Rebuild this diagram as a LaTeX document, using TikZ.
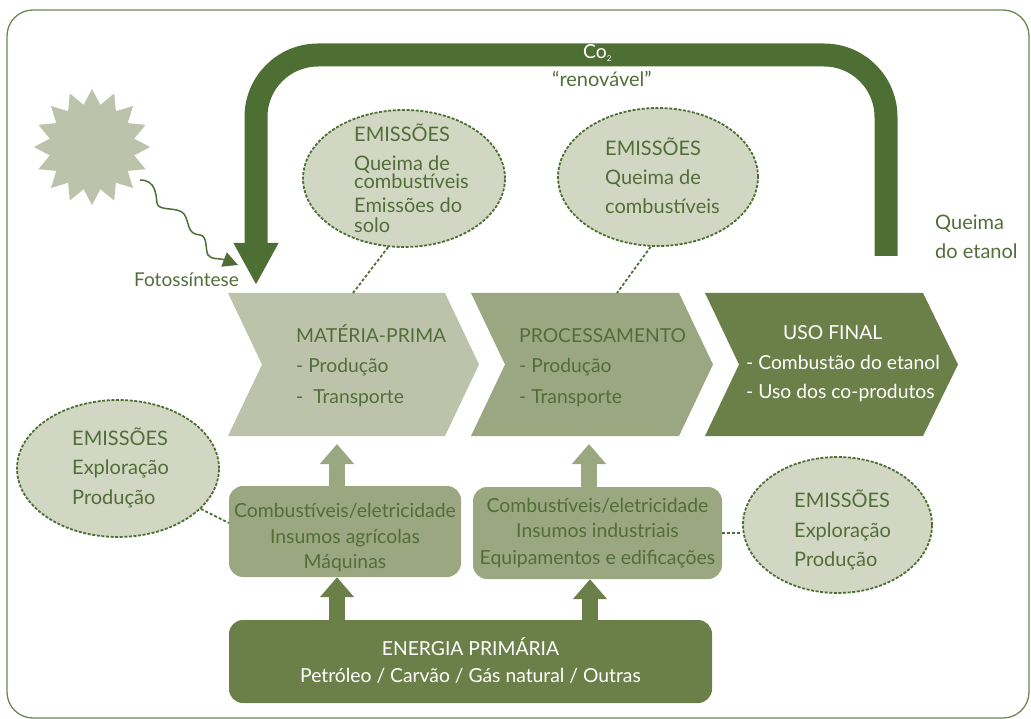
\documentclass[tikz,border=0pt]{standalone}
\usepackage{fontspec}
\setmainfont{Lato}
\usetikzlibrary{arrows.meta,shapes.geometric}
\definecolor{dg}{RGB}{78,111,52}
\definecolor{mg}{RGB}{107,128,73}
\definecolor{lg}{RGB}{155,167,129}
\definecolor{pg}{RGB}{189,195,171}
\definecolor{eg}{RGB}{210,215,196}
\definecolor{tg}{RGB}{82,110,56}
\definecolor{fr}{RGB}{110,135,80}
\newcommand\fsE{\fontsize{20}{23}\selectfont}
\newcommand\fsC{\fontsize{19.3}{23}\selectfont}
\newcommand\fsB{\fontsize{19.4}{22}\selectfont}
\newcommand\fsF{\fontsize{19}{22}\selectfont}
\begin{document}
\begin{tikzpicture}[x=1pt,y=-1pt,
  txt/.style={inner sep=0, text=tg, font=\fsE},
  lt/.style={txt, anchor=base west},
  clt/.style={lt, font=\fsC},
  wlt/.style={clt, text=white},
  ct/.style={txt, font=\fsB, anchor=base},
  wct/.style={ct, text=white, font=\fsC},
  ell/.style={ellipse, draw=dg, fill=eg, line width=1.8pt, dash pattern=on 3pt off 1.6pt, inner sep=0},
  boxnode/.style={rectangle, rounded corners=14pt, inner sep=0},
  uparr/.style={line width=16pt, -{Triangle[width=33pt,length=20pt]}},
  dconn/.style={draw=dg, line width=1.8pt, dash pattern=on 3pt off 2pt},
  frame/.style={draw=fr, line width=1.3pt, rounded corners=26pt}]
\useasboundingbox (0,0) rectangle (1031,719);
\draw[frame] (7,10) rectangle (1029,718);

% sun
\fill[pg, shift={(92,147)}] plot[samples at={0,...,31}] (\x*11.25:{50.5+7.5*cos(\x*180)}) -- cycle;
\coordinate (sunray) at (140,180);
\coordinate (fotoend) at (238,265);
\draw[dg, line width=1.5pt, -{Triangle[length=15pt,width=15pt]}] (sunray) .. controls (156,180) and (156,195) .. (157,203) .. controls (158,212) and (178,206) .. (184,214) .. controls (190,222) and (186,234) .. (200,235) .. controls (208,236) and (205,250) .. (208,255) .. controls (211,260) and (220,258) .. (fotoend);
\node[lt, font=\fsF] (foto) at (134,287) {Fotossíntese};

% CO2 arrow
\coordinate (co2start) at (886,256);
\coordinate (co2end) at (256,285);
\draw[dg, line width=23pt, rounded corners=62pt, -{Triangle[width=42pt,length=42pt]}] (co2start) -- (886,55) -- (256,55) -- (co2end);
\node[wlt] (co2) at (583,59) {Co\raisebox{-3pt}{\fontsize{8}{8}\selectfont 2}};
\node[lt] (ren) at (552,87) {“renovável”};
\node[lt] (qe1) at (935,230) {Queima};
\node[lt] (qe2) at (935,259) {do etanol};

% chevrons
\fill[pg] (228,293) -- (445,293) -- (479,364.5) -- (445,436) -- (228,436) -- (262,364.5) -- cycle;
\fill[lg] (471,293) -- (679,293) -- (713,364.5) -- (679,436) -- (471,436) -- (505,364.5) -- cycle;
\fill[mg] (705,293) -- (923,293) -- (958,364.5) -- (923,436) -- (705,436) -- (739,364.5) -- cycle;
\coordinate (mptop) at (353,293);
\coordinate (prtop) at (617,293);
\node[clt] (mp1) at (296,343) {MATÉRIA-PRIMA};
\node[clt] (mp2) at (296,373) {- Produção};
\node[clt] (mp3) at (296,403) {-\ \ Transporte};
\node[clt] (pr1) at (519,343) {PROCESSAMENTO};
\node[clt] (pr2) at (519,373) {- Produção};
\node[clt] (pr3) at (519,403) {- Transporte};
\node[wlt] (uf1) at (783,340) {USO FINAL};
\node[wlt] (uf2) at (746,370) {- Combustão do etanol};
\node[wlt] (uf3) at (746,399) {- Uso dos co-produtos};

% ellipses
\node[ell, minimum width=202pt, minimum height=137pt] (e1) at (404,178.5) {};
\node[lt] (e1a) at (354,142) {EMISSÕES};
\node[lt] (e1b) at (354,171) {Queima de};
\node[lt] (e1c) at (354,189) {combustíveis};
\node[lt] (e1d) at (354,213) {Emissões do};
\node[lt] (e1e) at (354,233) {solo};
\node[ell, minimum width=200pt, minimum height=138pt] (e2) at (658,177) {};
\node[lt] (e2a) at (605,156) {EMISSÕES};
\node[lt] (e2b) at (605,185) {Queima de};
\node[lt] (e2c) at (605,214) {combustíveis};
\node[ell, minimum width=202pt, minimum height=137pt] (e3) at (118,468.5) {};
\node[lt] (e3a) at (72,445) {EMISSÕES};
\node[lt] (e3b) at (72,474) {Exploração};
\node[lt] (e3c) at (72,504) {Produção};
\node[ell, minimum width=189pt, minimum height=136pt] (e4) at (837.5,525) {};
\node[lt] (e4a) at (794,507) {EMISSÕES};
\node[lt] (e4b) at (794,537) {Exploração};
\node[lt] (e4c) at (794,566) {Produção};

% boxes
\node[boxnode, fill=lg, minimum width=232pt, minimum height=91pt] (b1) at (345,531.5) {};
\node[ct] (b1a) at (345,517) {Combustíveis/eletricidade};
\node[ct] (b1b) at (345,543) {Insumos agrícolas};
\node[ct] (b1c) at (345,568) {Máquinas};
\node[boxnode, fill=lg, minimum width=249pt, minimum height=92pt] (b2) at (597.5,533) {};
\node[ct] (b2a) at (597.5,512) {Combustíveis/eletricidade};
\node[ct] (b2b) at (597.5,537) {Insumos industriais};
\node[ct] (b2c) at (597.5,564) {Equipamentos e edificações};
\node[boxnode, fill=mg, minimum width=483pt, minimum height=83pt] (b3) at (470.5,661.5) {};
\node[wct] (b3a) at (470.5,655) {ENERGIA PRIMÁRIA};
\node[wct] (b3b) at (470.5,682) {Petróleo / Carvão / Gás natural / Outras};

% up arrows
\coordinate (a1t) at (337,444);
\coordinate (a2t) at (589,444);
\coordinate (a3x) at (337,0);
\coordinate (a4x) at (590,0);
\draw[uparr, lg] (b1.north -| a1t) -- (a1t);
\draw[uparr, lg] (b2.north -| a2t) -- (a2t);
\draw[uparr, mg] (b3.north -| a3x) -- (b1.south -| a3x);
\draw[uparr, mg] (b3.north -| a4x) -- (b2.south -| a4x);

% dashed connectors
\draw[dconn] (e1.257) -- (mptop);
\draw[dconn] (e2.264) -- (prtop);
\draw[dconn] (e3.334) -- (b1.west |- 0,523);
\draw[dconn] (b2.east) -- (b2.east -| e4.west);
\end{tikzpicture}
\end{document}
